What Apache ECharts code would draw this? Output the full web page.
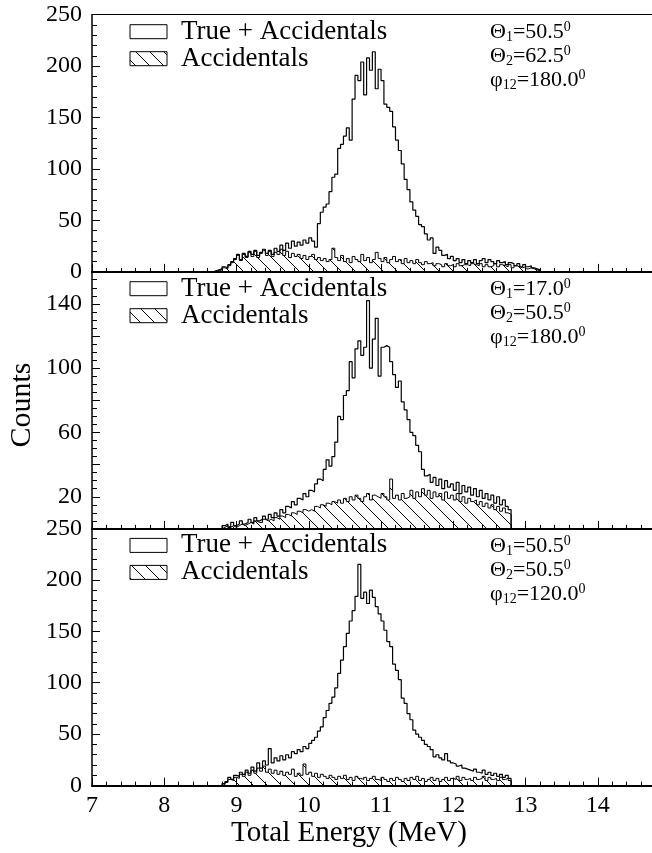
<!DOCTYPE html>
<html>
<head>
<meta charset="utf-8">
<script src="https://cdn.jsdelivr.net/npm/echarts@6/dist/echarts.min.js"></script>
<style>
  html, body { margin: 0; padding: 0; background: #fff; }
  #chart { width: 652px; height: 853px; }
</style>
</head>
<body>
<div id="chart"></div>
<script>
// bin width (MeV) and first bin edge of each panel
const binWidth = 0.04;
const startTop = 8.68;
const startMid = 8.80;
const startBot = 8.80;

// panel 1: Theta1=50.5, Theta2=62.5, phi12=180
const totalTop = [
  1, 2, 3, 5, 4, 7, 10, 13, 17, 12,
  18, 15, 20, 17, 21, 16, 19, 22, 18, 21,
  17, 23, 20, 26, 21, 28, 23, 30, 25, 29,
  26, 31, 28, 33, 30, 24, 47, 58, 63, 66,
  78, 92, 95, 120, 124, 132, 140, 128, 168, 191,
  186, 204, 172, 208, 196, 214, 178, 197, 186, 163,
  160, 156, 141, 128, 118, 105, 90, 80, 68, 60,
  54, 46, 44, 37, 31, 33, 18, 24, 21, 16,
  17, 13, 15, 11, 13, 9, 12, 8, 11, 9,
  12, 8, 11, 13, 9, 12, 10, 8, 11, 9,
  10, 7, 9, 8, 6, 8, 5, 7, 5, 6,
  4, 3, 2];
const accTop = [
  1, 1, 2, 4, 3, 6, 9, 12, 16, 11,
  17, 14, 19, 15, 20, 14, 18, 21, 16, 20,
  15, 19, 17, 22, 16, 20, 14, 18, 15, 17,
  13, 16, 12, 15, 17, 12, 14, 11, 13, 10,
  12, 23, 14, 11, 16, 10, 13, 9, 15, 12,
  10, 17, 11, 14, 9, 12, 19, 13, 10, 14,
  9, 12, 15, 10, 12, 8, 13, 9, 11, 8,
  12, 9, 7, 10, 8, 9, 6, 8, 7, 5,
  8, 6, 7, 5, 8, 6, 7, 7, 6, 8,
  7, 6, 8, 5, 7, 5, 6, 8, 5, 7,
  6, 5, 7, 4, 6, 5, 4, 5, 3, 4,
  3, 2, 1];

// panel 2: Theta1=17.0, Theta2=50.5, phi12=180
const totalMid = [
  2, 3, 1, 4, 2, 3, 5, 3, 4, 6,
  4, 7, 5, 6, 8, 6, 9, 7, 10, 8,
  12, 10, 14, 13, 17, 15, 19, 18, 22, 20,
  24, 23, 28, 31, 30, 37, 43, 39, 45, 54,
  70, 68, 83, 86, 104, 94, 112, 117, 108, 113,
  142, 100, 118, 131, 95, 113, 114, 113, 104, 96,
  88, 92, 79, 74, 68, 60, 58, 52, 48, 37,
  33, 34, 29, 32, 27, 31, 25, 30, 26, 28,
  24, 29, 22, 27, 23, 26, 21, 25, 20, 24,
  19, 22, 18, 21, 16, 20, 15, 18, 14, 12];
const accMid = [
  1, 2, 1, 2, 1, 2, 3, 2, 3, 4,
  3, 5, 4, 4, 6, 5, 6, 5, 7, 6,
  8, 7, 9, 8, 10, 9, 11, 10, 12, 11,
  12, 11, 14, 13, 15, 14, 16, 15, 17, 16,
  18, 16, 19, 17, 20, 18, 21, 19, 17, 20,
  22, 18, 21, 20, 19, 22, 20, 18, 31, 19,
  21, 18, 22, 19, 20, 24, 19, 23, 20, 25,
  21, 24, 19, 23, 20, 22, 18, 23, 19, 21,
  18, 22, 17, 20, 16, 19, 17, 18, 15, 17,
  14, 16, 13, 15, 12, 14, 11, 13, 10, 9];

// panel 3: Theta1=50.5, Theta2=50.5, phi12=120
const totalBot = [
  2, 4, 8, 6, 10, 9, 13, 11, 15, 12,
  18, 14, 22, 17, 24, 20, 36, 22, 27, 24,
  29, 25, 30, 27, 33, 31, 35, 33, 38, 36,
  41, 44, 47, 53, 57, 66, 73, 80, 86, 95,
  109, 122, 135, 148, 160, 170, 184, 215, 182, 188,
  177, 190, 183, 174, 167, 160, 151, 140, 135, 118,
  112, 103, 85, 80, 70, 64, 54, 50, 47, 44,
  40, 38, 35, 28, 30, 27, 25, 31, 24, 22,
  21, 19, 20, 17, 16, 15, 14, 16, 13, 12,
  15, 11, 13, 10, 12, 9, 11, 8, 10, 7];
const accBot = [
  1, 3, 6, 5, 8, 7, 11, 9, 13, 10,
  15, 12, 17, 14, 19, 13, 16, 12, 15, 11,
  14, 10, 13, 11, 16, 9, 12, 10, 21, 11,
  13, 9, 12, 8, 11, 9, 7, 10, 8, 6,
  9, 7, 10, 6, 8, 5, 9, 7, 6, 8,
  5, 7, 9, 6, 5, 8, 6, 4, 7, 5,
  8, 6, 4, 7, 5, 8, 6, 9, 5, 7,
  4, 6, 8, 5, 7, 4, 6, 8, 5, 7,
  6, 9, 5, 8, 6, 7, 5, 8, 6, 7,
  9, 5, 8, 6, 7, 5, 8, 6, 7, 5];

const yLabelsMid = [20, 60, 100, 140];
const notes = [
  ['50.5', '62.5', '180.0'],
  ['17.0', '50.5', '180.0'],
  ['50.5', '50.5', '120.0']
];

const FONT = 'Liberation Serif, Times New Roman, serif';
const panelTops = [14.7, 271.7, 528.4];
const panelH = 257.2;

// diagonal hatch used for the accidentals
const hatch = document.createElement('canvas');
hatch.width = 14; hatch.height = 14;
(function () {
  const c = hatch.getContext('2d');
  c.strokeStyle = '#000';
  c.lineWidth = 1;
  c.beginPath();
  c.moveTo(0, 0); c.lineTo(14, 14);
  c.moveTo(-2, 12); c.lineTo(2, 16);
  c.moveTo(12, -2); c.lineTo(16, 2);
  c.stroke();
})();
const hatchFill = { image: hatch, repeat: 'repeat' };

function histPoints(start, counts) {
  const pts = [[start, 0]];
  counts.forEach((v, i) => pts.push([+(start + i * binWidth).toFixed(3), v]));
  pts.push([+(start + counts.length * binWidth).toFixed(3), 0]);
  return pts;
}

const chart = echarts.init(document.getElementById('chart'), null, { renderer: 'canvas' });

const grids = panelTops.map(t => ({ left: 92, right: 0, top: t, height: panelH }));

const xAxes = [0, 1, 2].map(i => ({
  type: 'value', gridIndex: i, min: 7, max: 14.75, interval: 1,
  axisLine: { lineStyle: { color: '#000', width: 2 } },
  axisTick: { inside: true, length: 8, lineStyle: { color: '#000' } },
  minorTick: { show: true, splitNumber: 5, length: 4, lineStyle: { color: '#000' } },
  splitLine: { show: false },
  axisLabel: {
    show: i === 2, color: '#000', fontFamily: FONT, fontSize: 24, margin: 8,
    showMaxLabel: false
  }
}));
// thin frame line on top of the upper panel
xAxes.push({
  type: 'value', gridIndex: 0, position: 'top', min: 7, max: 14.75,
  axisLine: { lineStyle: { color: '#000', width: 1.2 } },
  axisTick: { show: false }, axisLabel: { show: false }, splitLine: { show: false }
});

const yCommon = {
  type: 'value', min: 0,
  axisLine: { show: true, lineStyle: { color: '#000', width: 1.5 } },
  axisTick: { inside: true, length: 8, lineStyle: { color: '#000' } },
  splitLine: { show: false }
};
const yAxes = [
  Object.assign({}, yCommon, {
    gridIndex: 0, max: 250, interval: 50,
    minorTick: { show: true, splitNumber: 5, length: 5, lineStyle: { color: '#000' } },
    axisLabel: { color: '#000', fontFamily: FONT, fontSize: 24, margin: 10 }
  }),
  Object.assign({}, yCommon, {
    gridIndex: 1, max: 160, interval: 20,
    minorTick: { show: true, splitNumber: 4, length: 5, lineStyle: { color: '#000' } },
    axisLabel: {
      color: '#000', fontFamily: FONT, fontSize: 24, margin: 10,
      formatter: v => (yLabelsMid.indexOf(v) >= 0 ? String(v) : '')
    }
  }),
  Object.assign({}, yCommon, {
    gridIndex: 2, max: 250, interval: 50,
    minorTick: { show: true, splitNumber: 5, length: 5, lineStyle: { color: '#000' } },
    axisLabel: { color: '#000', fontFamily: FONT, fontSize: 24, margin: 10 }
  })
];

const panels = [
  [startTop, totalTop, accTop],
  [startMid, totalMid, accMid],
  [startBot, totalBot, accBot]
];
const series = [];
panels.forEach((p, i) => {
  series.push({
    type: 'line', step: 'end', xAxisIndex: i, yAxisIndex: i, symbol: 'none',
    data: histPoints(p[0], p[2]),
    lineStyle: { color: '#000', width: 1 },
    areaStyle: { color: hatchFill, opacity: 1, origin: 'start' },
    z: 2
  });
  series.push({
    type: 'line', step: 'end', xAxisIndex: i, yAxisIndex: i, symbol: 'none',
    data: histPoints(p[0], p[1]),
    lineStyle: { color: '#000', width: 1.2 },
    z: 3
  });
});

const graphics = [];
panelTops.forEach((t, i) => {
  // legend
  graphics.push({ type: 'rect', shape: { x: 130, y: t + 10, width: 37, height: 14 },
    style: { fill: '#fff', stroke: '#000', lineWidth: 1 } });
  graphics.push({ type: 'rect', shape: { x: 130, y: t + 37, width: 37, height: 14 },
    style: { fill: hatchFill, stroke: '#000', lineWidth: 1 } });
  graphics.push({ type: 'text', x: 181, y: t + 17,
    style: { text: 'True + Accidentals', font: '27px ' + FONT, fill: '#000', textVerticalAlign: 'middle' } });
  graphics.push({ type: 'text', x: 181, y: t + 44,
    style: { text: 'Accidentals', font: '27px ' + FONT, fill: '#000', textVerticalAlign: 'middle' } });
  // angles
  const rich = {
    m: { fontSize: 22, fontFamily: FONT, lineHeight: 24, fill: '#000' },
    s: { fontSize: 14, fontFamily: FONT, lineHeight: 14, verticalAlign: 'bottom', fill: '#000' },
    p: { fontSize: 14, fontFamily: FONT, lineHeight: 14, verticalAlign: 'top', fill: '#000' }
  };
  const lines = [
    '{m|\u0398}{s|1}{m|=' + notes[i][0] + '}{p|0}',
    '{m|\u0398}{s|2}{m|=' + notes[i][1] + '}{p|0}',
    '{m|\u03c6}{s|12}{m|=' + notes[i][2] + '}{p|0}'
  ];
  lines.forEach((txt, k) => {
    graphics.push({ type: 'text', x: 490, y: t + 18 + k * 24,
      style: { text: txt, rich: rich, textVerticalAlign: 'middle', fill: '#000' } });
  });
});
graphics.push({ type: 'text', x: 349, y: 833,
  style: { text: 'Total Energy (MeV)', font: '29px ' + FONT, fill: '#000', textAlign: 'center', textVerticalAlign: 'middle' } });
graphics.push({ type: 'text', x: 22, y: 405, rotation: Math.PI / 2,
  style: { text: 'Counts', font: '30px ' + FONT, fill: '#000', textAlign: 'center', textVerticalAlign: 'middle' } });

chart.setOption({
  animation: false,
  backgroundColor: '#fff',
  grid: grids,
  xAxis: xAxes,
  yAxis: yAxes,
  series: series,
  graphic: graphics
});
</script>
</body>
</html>
